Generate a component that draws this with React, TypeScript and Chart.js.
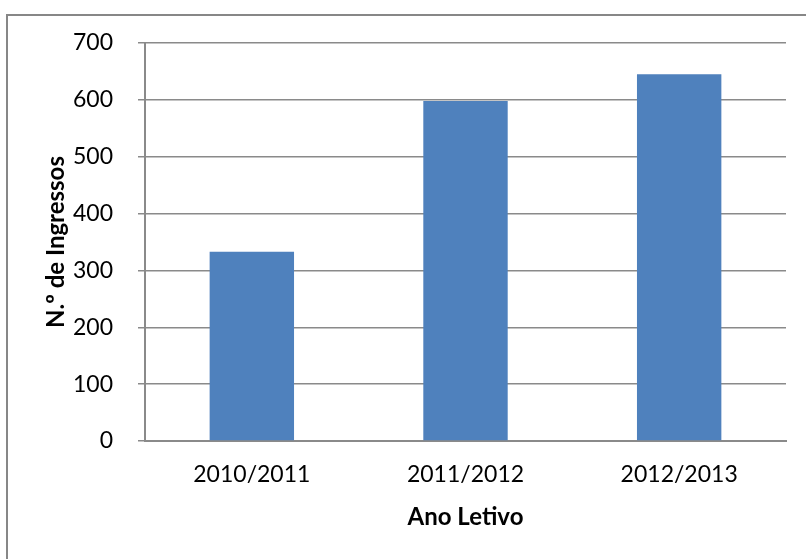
import React, { useEffect, useRef } from "react";
import { Chart, registerables } from "chart.js";

Chart.register(...registerables);

const categories = ["2010/2011", "2011/2012", "2012/2013"];
const ingressos = [333, 598, 645];
const yTitle = "N.º de Ingressos";
const xTitle = "Ano Letivo";

const GRID = "#8a8a8a";
const FONT = "Lato";

export default function App() {
  const ref = useRef<HTMLCanvasElement | null>(null);

  useEffect(() => {
    document.body.style.margin = "0";
    const canvas = ref.current;
    if (!canvas) return;
    const chart = new Chart(canvas, {
      type: "bar",
      data: {
        labels: categories,
        datasets: [
          {
            data: ingressos,
            backgroundColor: "#4F81BD",
            borderWidth: 0,
            categoryPercentage: 1,
            barPercentage: 0.395,
          },
        ],
      },
      options: {
        animation: false,
        responsive: false,
        devicePixelRatio: 1,
        layout: { padding: { left: 40, right: 20, top: 43, bottom: 10 } },
        plugins: { legend: { display: false }, tooltip: { enabled: false } },
        scales: {
          x: {
            grid: { display: false, drawTicks: false },
            border: { display: true, color: GRID, width: 2 },
            ticks: { color: "#000", font: { family: FONT, size: 23 }, padding: 20, maxRotation: 0 },
            title: {
              display: true,
              text: xTitle,
              color: "#000",
              font: { family: FONT, size: 24, weight: "bold" },
              padding: { top: 0, bottom: 17 },
            },
            afterFit: (s: any) => {
              s.height = 108;
            },
          },
          y: {
            min: 0,
            max: 700,
            ticks: { stepSize: 100, color: "#000", font: { family: FONT, size: 23 }, padding: 25 },
            grid: { color: GRID, lineWidth: 1.5, tickLength: 7, drawTicks: true },
            border: { display: true, color: GRID, width: 2 },
            title: {
              display: true,
              text: yTitle,
              color: "#000",
              font: { family: FONT, size: 24, weight: "bold" },
              padding: { top: 2, bottom: 0 },
            },
            afterFit: (s: any) => {
              s.width = 105;
            },
          },
        },
      },
    });
    return () => chart.destroy();
  }, []);

  return (
    <div style={{ position: "absolute", left: 0, top: 0, width: 806, height: 559, background: "#fff", overflow: "hidden" }}>
      <div
        style={{
          position: "absolute",
          left: 6,
          top: 14,
          width: 900,
          height: 700,
          borderLeft: "2px solid #878787",
          borderTop: "2px solid #878787",
          boxSizing: "border-box",
        }}
      />
      <canvas ref={ref} width={806} height={559} style={{ position: "absolute", left: 0, top: 0, width: 806, height: 559 }} />
    </div>
  );
}
